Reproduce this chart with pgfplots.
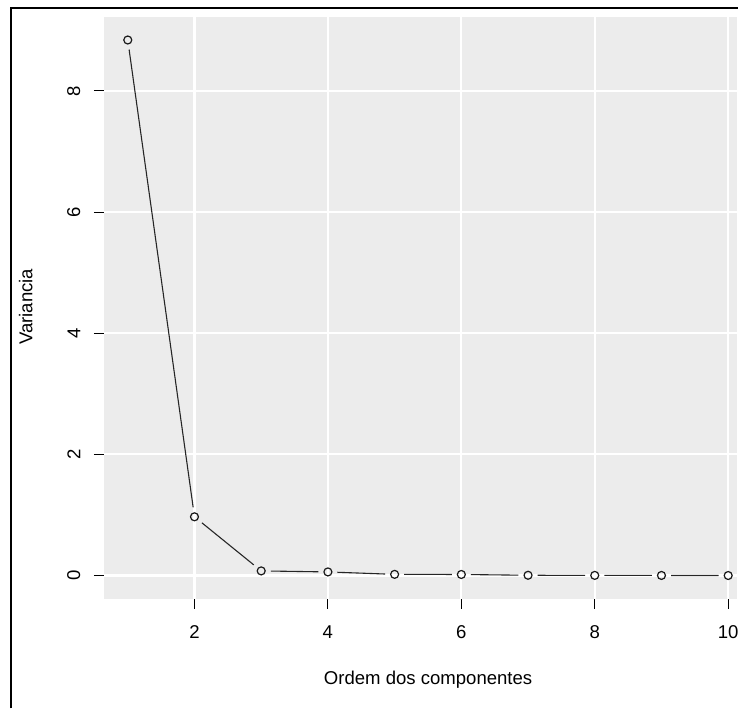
\documentclass[border=0pt]{standalone}
\usepackage{pgfplots}
\usepackage{pgfplotstable}
\pgfplotsset{compat=1.18}
\usepackage{fontspec}
\setmainfont{Liberation Sans}

\definecolor{panel}{RGB}{236,236,236}

% eigenvalues of the principal components
\pgfplotstableread{
comp var
1    8.84
2    0.97
3    0.077
4    0.06
5    0.02
6    0.018
7    0.005
8    0.003
9    0.002
10   0.001
}\scree

\begin{document}
\begin{tikzpicture}
\begin{axis}[
  at={(0,0)}, anchor=south west,
  scale only axis,
  width=317.5pt, height=291.5pt,
  xmin=0.64, xmax=10.136,
  ymin=-0.38, ymax=9.22,
  xtick={2,4,6,8,10},
  ytick={0,2,4,6,8},
  xtick pos=bottom, ytick pos=left,
  tick align=outside,
  major tick length=5pt,
  every tick/.style={black, line width=0.55pt},
  axis line style={draw=none},
  axis background/.style={fill=panel},
  grid=major,
  major grid style={white, line width=1.1pt},
  /pgf/number format/assume math mode=true,
  font=\fontsize{9.3pt}{11pt}\selectfont,
  xticklabel style={anchor=north, inner sep=0pt},
  yticklabel style={rotate=90, anchor=south, inner sep=0pt},
  xticklabel shift=8.5pt,
  yticklabel shift=6.5pt,
  xlabel={Ordem dos componentes},
  ylabel={Variancia},
  xlabel style={at={(axis description cs:0.512,-0.1235)}, anchor=north, inner sep=0pt},
  ylabel style={at={(axis description cs:-0.1118,0.5017)}, anchor=south, rotate=0, inner sep=0pt},
  clip=true,
]
% type "b" connections: each segment stops short of the points
\pgfplotsinvokeforeach{1,...,9}{
  \addplot[black!85, line width=0.55pt, no markers,
    shorten >=4.8pt, shorten <=4.8pt,
    x filter/.expression={(x<#1-0.1 || x>#1+1.1) ? nan : x}]
    table[x=comp, y=var] {\scree};
}
\addplot[only marks, mark=o, mark size=2pt,
  mark options={black!90, line width=0.6pt}] table[x=comp, y=var] {\scree};
\end{axis}
% outer frame
\draw[line width=0.75pt] (-46.5pt,-55pt) -- (-46.5pt,296pt) -- (318pt,296pt);
\path[use as bounding box] (-52pt,-54pt) rectangle (317.5pt,300pt);
\end{tikzpicture}
\end{document}
